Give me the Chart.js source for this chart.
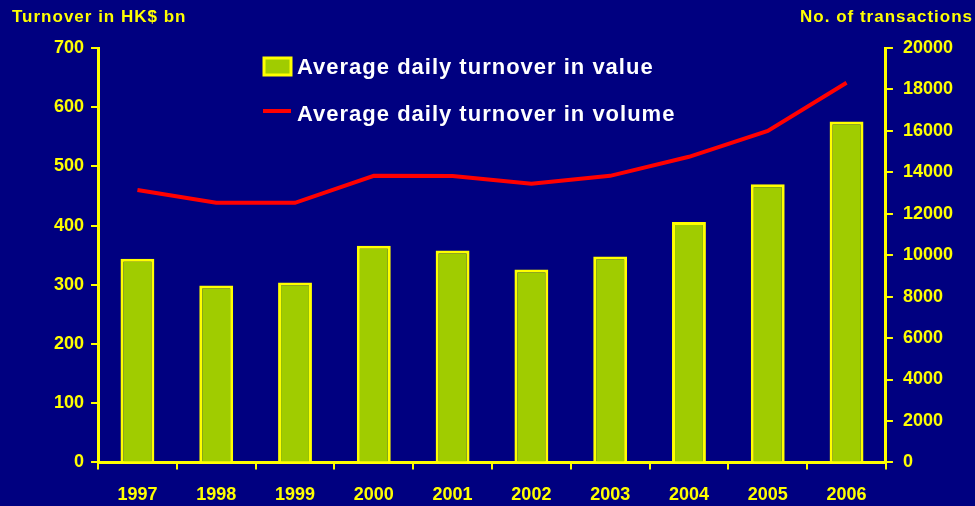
<!DOCTYPE html>
<html lang="en">
<head>
  <meta charset="UTF-8" />
  <title>Average daily turnover</title>
  <script src="https://cdn.jsdelivr.net/npm/chart.js"></script>
  <style>
    html, body {
      margin: 0;
      padding: 0;
      background: #000080;
    }
    #wrap {
      width: 975px;
      height: 506px;
    }
  </style>
</head>
<body>
  <div id="wrap"><canvas id="turnoverChart" width="975" height="506"></canvas></div>

  <script>
    // data
    const years = ['1997', '1998', '1999', '2000', '2001', '2002', '2003', '2004', '2005', '2006'];
    const valueBn = [344, 299, 304, 366, 358, 326, 348, 406, 470, 576];
    const volumeTx = [13150, 12530, 12530, 13830, 13820, 13450, 13830, 14750, 16000, 18320];
    const leftTicks = [0, 100, 200, 300, 400, 500, 600, 700];
    const rightTicks = [0, 2000, 4000, 6000, 8000, 10000, 12000, 14000, 16000, 18000, 20000];

    const YELLOW = '#ffff00';
    const GREEN = '#a0cc00';
    const tickFont = { family: "'Liberation Sans', Arial, sans-serif", size: 18, weight: 'bold' };

    // axis titles and the in-plot legend
    const decorations = {
      id: 'decorations',
      afterDraw(chart) {
        const ctx = chart.ctx;
        ctx.save();
        ctx.letterSpacing = '1px';
        ctx.font = "bold 17px 'Liberation Sans', Arial, sans-serif";
        ctx.fillStyle = YELLOW;
        ctx.textBaseline = 'middle';
        ctx.textAlign = 'left';
        ctx.fillText('Turnover in HK$ bn', 12, 17);
        ctx.textAlign = 'right';
        ctx.fillText('No. of transactions', 973, 17);

        const ds = chart.data.datasets;
        ctx.font = "bold 22px 'Liberation Sans', Arial, sans-serif";
        ctx.textAlign = 'left';
        // bar item
        ctx.fillStyle = GREEN;
        ctx.fillRect(264, 58, 27, 17);
        ctx.strokeStyle = YELLOW;
        ctx.lineWidth = 3;
        ctx.strokeRect(264, 58, 27, 17);
        ctx.fillStyle = '#ffffff';
        ctx.fillText(ds[0].label, 297, 68);
        // line item
        ctx.strokeStyle = '#ff0000';
        ctx.lineWidth = 4;
        ctx.beginPath();
        ctx.moveTo(263, 111);
        ctx.lineTo(291, 111);
        ctx.stroke();
        ctx.fillText(ds[1].label, 297, 115);
        ctx.restore();
      }
    };

    const ctx = document.getElementById('turnoverChart').getContext('2d');
    new Chart(ctx, {
      data: {
        labels: years,
        datasets: [
          {
            type: 'bar',
            label: 'Average daily turnover in value',
            data: valueBn,
            yAxisID: 'y',
            backgroundColor: GREEN,
            borderColor: YELLOW,
            borderWidth: 3,
            categoryPercentage: 1,
            barPercentage: 0.43,
            order: 2
          },
          {
            type: 'line',
            label: 'Average daily turnover in volume',
            data: volumeTx,
            yAxisID: 'y1',
            borderColor: '#ff0000',
            borderWidth: 4,
            pointRadius: 0,
            tension: 0,
            fill: false,
            order: 1
          }
        ]
      },
      options: {
        responsive: false,
        animation: false,
        layout: { padding: { left: 47, right: 12, top: 48, bottom: -15 } },
        plugins: {
          legend: { display: false },
          tooltip: { enabled: false }
        },
        scales: {
          x: {
            offset: true,
            grid: { display: true, drawOnChartArea: false, drawTicks: true, tickLength: 7, color: YELLOW, lineWidth: 2, offset: true },
            border: { display: true, color: YELLOW, width: 3 },
            ticks: { color: YELLOW, font: tickFont, padding: 15, autoSkip: false, maxRotation: 0 }
          },
          y: {
            position: 'left',
            min: 0,
            max: 700,
            afterBuildTicks(axis) { axis.ticks = leftTicks.map(v => ({ value: v })); },
            grid: { drawOnChartArea: false, drawTicks: true, tickLength: 7, color: YELLOW, lineWidth: 2 },
            border: { display: true, color: YELLOW, width: 3 },
            ticks: { color: YELLOW, font: tickFont, padding: 7 }
          },
          y1: {
            position: 'right',
            min: 0,
            max: 20000,
            afterBuildTicks(axis) { axis.ticks = rightTicks.map(v => ({ value: v })); },
            grid: { drawOnChartArea: false, drawTicks: true, tickLength: 7, color: YELLOW, lineWidth: 2 },
            border: { display: true, color: YELLOW, width: 3 },
            ticks: { color: YELLOW, font: tickFont, padding: 10, callback: v => String(v) }
          }
        }
      },
      plugins: [decorations]
    });
  </script>
</body>
</html>
